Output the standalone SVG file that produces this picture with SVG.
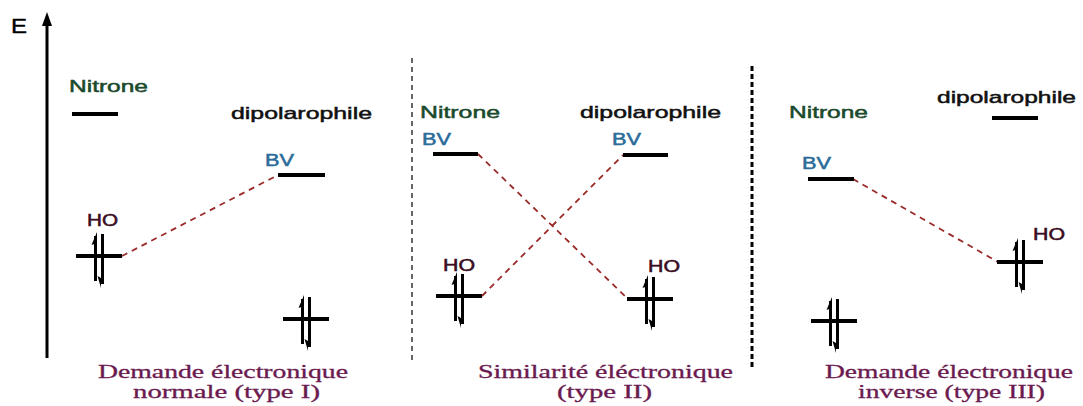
<svg xmlns="http://www.w3.org/2000/svg" width="1083" height="406" viewBox="0 0 1083 406">
<style>
.sans{font-family:"Liberation Sans",Arial,sans-serif;stroke-width:0.5;}
.nit{fill:#1b4a2c;stroke:#1b4a2c;font-size:17px;}
.dip{fill:#111;stroke:#111;font-size:17px;}
.bv{fill:#2a6b98;stroke:#2a6b98;font-size:16px;}
.ho{fill:#3a0d22;stroke:#3a0d22;font-size:16px;}
.cap{font-family:"Liberation Serif","Times New Roman",serif;fill:#6b1a50;stroke:#6b1a50;stroke-width:0.3;font-size:18px;}
.lvl{stroke:#000;stroke-width:4;fill:none;}
.link{stroke:#9b2a2a;stroke-width:1.8;stroke-dasharray:6 5;fill:none;}
</style>
<defs>
<g id="pair">
<line x1="-23" y1="0" x2="23" y2="0" stroke="#000" stroke-width="4"/>
<line x1="-3.5" y1="-20" x2="-3.5" y2="25" stroke="#000" stroke-width="3"/>
<polygon points="-2,-24 -7.5,-11 -2,-13" fill="#000"/>
<line x1="3.5" y1="-22" x2="3.5" y2="28" stroke="#000" stroke-width="3"/>
<polygon points="2,32 -1.5,20 2,22" fill="#000"/>
</g>
</defs>
<rect width="1083" height="406" fill="#fff"/>

<g id="axis">
<line x1="47" y1="22" x2="47" y2="358" stroke="#000" stroke-width="3"/>
<polygon points="47,12 42,26 52,26" fill="#000"/>
<text x="11" y="33" font-family="Liberation Sans,Arial,sans-serif" font-size="20" fill="#000" stroke="#000" stroke-width="0.4" textLength="16" lengthAdjust="spacingAndGlyphs">E</text>
</g>

<g id="dividers">
<line x1="412" y1="58" x2="412" y2="360" stroke="#333" stroke-width="1.5" stroke-dasharray="5 4"/>
<line x1="752" y1="66" x2="752" y2="367" stroke="#000" stroke-width="3" stroke-dasharray="5 3"/>
</g>

<g id="connectors">
<line class="link" x1="122" y1="256" x2="278" y2="175"/>
<line class="link" x1="478" y1="154" x2="628" y2="299"/>
<line class="link" x1="482" y1="296" x2="623" y2="155"/>
<line class="link" x1="853" y1="179" x2="998" y2="262"/>
</g>

<!-- Panel 1 -->
<g id="p1-nitrone">
<text class="sans nit" x="69" y="92" textLength="79" lengthAdjust="spacingAndGlyphs">Nitrone</text>
<line class="lvl" x1="72" y1="114" x2="118" y2="114"/>
</g>
<g id="p1-dipol">
<text class="sans dip" x="231" y="119" textLength="141" lengthAdjust="spacingAndGlyphs">dipolarophile</text>
</g>
<g id="p1-bv">
<text class="sans bv" x="265" y="166" textLength="29" lengthAdjust="spacingAndGlyphs">BV</text>
<line class="lvl" x1="278" y1="175" x2="325" y2="175"/>
</g>
<g id="p1-ho">
<text class="sans ho" x="87" y="226" textLength="31" lengthAdjust="spacingAndGlyphs">HO</text>
<use href="#pair" transform="translate(99,256)"/>
</g>
<g id="p1-dipol-ho">
<use href="#pair" transform="translate(306,319)"/>
</g>
<g id="p1-caption">
<text class="cap" x="98" y="378" textLength="250" lengthAdjust="spacingAndGlyphs">Demande électronique</text>
<text class="cap" x="133" y="398" textLength="187" lengthAdjust="spacingAndGlyphs">normale (type I)</text>
</g>

<!-- Panel 2 -->
<g id="p2-nitrone">
<text class="sans nit" x="420" y="118" textLength="80" lengthAdjust="spacingAndGlyphs">Nitrone</text>
</g>
<g id="p2-dipol">
<text class="sans dip" x="580" y="118" textLength="141" lengthAdjust="spacingAndGlyphs">dipolarophile</text>
</g>
<g id="p2-bv-left">
<text class="sans bv" x="422" y="145" textLength="29" lengthAdjust="spacingAndGlyphs">BV</text>
<line class="lvl" x1="433" y1="154" x2="478" y2="154"/>
</g>
<g id="p2-bv-right">
<text class="sans bv" x="612" y="145" textLength="29" lengthAdjust="spacingAndGlyphs">BV</text>
<line class="lvl" x1="623" y1="155" x2="668" y2="155"/>
</g>
<g id="p2-ho-left">
<text class="sans ho" x="443" y="271" textLength="32" lengthAdjust="spacingAndGlyphs">HO</text>
<use href="#pair" transform="translate(459,296)"/>
</g>
<g id="p2-ho-right">
<text class="sans ho" x="648" y="272" textLength="32" lengthAdjust="spacingAndGlyphs">HO</text>
<use href="#pair" transform="translate(650,299)"/>
</g>
<g id="p2-caption">
<text class="cap" x="478" y="378" textLength="255" lengthAdjust="spacingAndGlyphs">Similarité éléctronique</text>
<text class="cap" x="557" y="398" textLength="95" lengthAdjust="spacingAndGlyphs">(type II)</text>
</g>

<!-- Panel 3 -->
<g id="p3-nitrone">
<text class="sans nit" x="789" y="118" textLength="79" lengthAdjust="spacingAndGlyphs">Nitrone</text>
</g>
<g id="p3-dipol">
<text class="sans dip" x="937" y="103" textLength="139" lengthAdjust="spacingAndGlyphs">dipolarophile</text>
<line class="lvl" x1="992" y1="118" x2="1038" y2="118"/>
</g>
<g id="p3-bv">
<text class="sans bv" x="802" y="169" textLength="29" lengthAdjust="spacingAndGlyphs">BV</text>
<line class="lvl" x1="808" y1="179" x2="854" y2="179"/>
</g>
<g id="p3-ho">
<text class="sans ho" x="1033" y="240" textLength="32" lengthAdjust="spacingAndGlyphs">HO</text>
<use href="#pair" transform="translate(1020,262)"/>
</g>
<g id="p3-nitrone-ho">
<use href="#pair" transform="translate(834,321)"/>
</g>
<g id="p3-caption">
<text class="cap" x="825" y="378" textLength="248" lengthAdjust="spacingAndGlyphs">Demande électronique</text>
<text class="cap" x="858" y="398" textLength="187" lengthAdjust="spacingAndGlyphs">inverse (type III)</text>
</g>
</svg>
